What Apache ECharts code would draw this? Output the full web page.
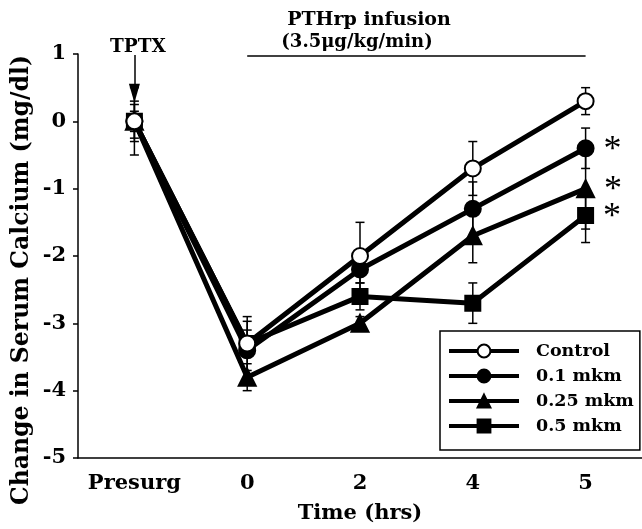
<!DOCTYPE html>
<html>
<head>
<meta charset="utf-8">
<script src="https://cdn.jsdelivr.net/npm/echarts@6/dist/echarts.min.js"></script>
<style>html,body{margin:0;padding:0;background:#fff;}#c{width:642px;height:529px;}</style>
</head>
<body>
<div id="c"></div>
<script>
var categories = ['Presurg', '0', '2', '4', '5'];
var yTicks = [-5, -4, -3, -2, -1, 0, 1];

var controlVals = [0, -3.3, -2.0, -0.7, 0.3];
var controlErr  = [0.5, 0.4, 0.5, 0.4, 0.2];
var m01Vals = [0, -3.4, -2.2, -1.3, -0.4];
var m01Err  = [0.3, 0.43, 0.2, 0.4, 0.3];
var m025Vals = [0, -3.8, -3.0, -1.7, -1.0];
var m025Err  = [0.25, 0.2, 0.1, 0.4, 0.6];
var m05Vals = [0, -3.3, -2.6, -2.7, -1.4];
var m05Err  = [0.15, 0.2, 0.2, 0.3, 0.4];

var seriesNames = ['Control', '0.1 mkm', '0.25 mkm', '0.5 mkm'];
var significant = [false, true, true, true];

var FONT = 'DejaVu Serif';
var chart = echarts.init(document.getElementById('c'), null, {renderer: 'canvas'});

function errSeries(vals, errs) {
  return {
    type: 'custom',
    silent: true,
    z: 1,
    data: vals.map(function (v, i) { return [i, v, errs[i]]; }),
    renderItem: function (params, api) {
      var x = api.value(0), v = api.value(1), e = api.value(2);
      var top = api.coord([x, v + e]);
      var bot = api.coord([x, v - e]);
      var hw = 4.5;
      var st = {stroke: '#000', lineWidth: 1.5};
      return {type: 'group', children: [
        {type: 'line', shape: {x1: top[0], y1: top[1], x2: bot[0], y2: bot[1]}, style: st},
        {type: 'line', shape: {x1: top[0] - hw, y1: top[1], x2: top[0] + hw, y2: top[1]}, style: st},
        {type: 'line', shape: {x1: bot[0] - hw, y1: bot[1], x2: bot[0] + hw, y2: bot[1]}, style: st}
      ]};
    }
  };
}

function lineSeries(name, vals, symbol, size, fill, star, extra) {
  var s = {
    name: name,
    type: 'line',
    z: 3,
    symbol: symbol,
    symbolSize: size,
    showAllSymbol: true,
    lineStyle: {color: '#000', width: 5},
    itemStyle: {color: fill, borderColor: '#000', borderWidth: 2},
    data: vals.map(function (v, i) {
      if (star && i === vals.length - 1) {
        return {value: v, label: {show: true, position: 'right', distance: 9, formatter: '*',
          fontFamily: 'Liberation Serif', fontSize: 36, color: '#000', offset: [0, 2]}};
      }
      return v;
    })
  };
  if (extra) { for (var k in extra) s[k] = extra[k]; }
  return s;
}

var option = {
  animation: false,
  backgroundColor: '#fff',
  grid: {left: 78, top: 54, bottom: 67, width: 566, containLabel: false},
  xAxis: {
    type: 'category',
    data: categories,
    boundaryGap: true,
    axisLine: {onZero: false, lineStyle: {color: '#000', width: 1.5}},
    axisTick: {alignWithLabel: true, interval: 0, length: 6, lineStyle: {color: '#000', width: 1.5}},
    axisLabel: {interval: 0, color: '#000', fontFamily: FONT, fontWeight: 'bold', fontSize: 21, margin: 15},
    name: 'Time (hrs)',
    nameLocation: 'middle',
    nameGap: 45,
    nameTextStyle: {color: '#000', fontFamily: FONT, fontWeight: 'bold', fontSize: 21}
  },
  yAxis: {
    type: 'value',
    min: yTicks[0],
    max: yTicks[yTicks.length - 1],
    interval: 1,
    splitLine: {show: false},
    axisLine: {show: true, lineStyle: {color: '#000', width: 1.5}},
    axisTick: {show: true, length: 5, lineStyle: {color: '#000', width: 1.5}},
    axisLabel: {color: '#000', fontFamily: FONT, fontWeight: 'bold', fontSize: 21, margin: 12}
  },
  legend: {
    orient: 'vertical',
    left: 440,
    top: 331,
    padding: [11, 6, 15, 7],
    itemGap: 7,
    itemWidth: 70,
    itemHeight: 16,
    borderColor: '#000',
    borderWidth: 1.5,
    backgroundColor: '#fff',
    lineStyle: {width: 4},
    textStyle: {color: '#000', fontFamily: FONT, fontWeight: 'bold', fontSize: 17.5, padding: [0, 0, 0, 12]},
    data: seriesNames
  },
  graphic: [
    {type: 'text', x: 22, y: 280, rotation: Math.PI / 2,
      style: {text: 'Change in Serum Calcium (mg/dl)', fill: '#000', font: 'bold 23.5px "DejaVu Serif"',
        textAlign: 'center', textVerticalAlign: 'middle'}},
    {type: 'text', x: 369, y: 20,
      style: {text: 'PTHrp infusion', fill: '#000', font: 'bold 19px "DejaVu Serif"',
        textAlign: 'center', textVerticalAlign: 'middle'}},
    {type: 'text', x: 357, y: 42,
      style: {text: '(3.5\u03bcg/kg/min)', fill: '#000', font: 'bold 18px "DejaVu Serif"',
        textAlign: 'center', textVerticalAlign: 'middle'}},
    {type: 'text', x: 138, y: 47,
      style: {text: 'TPTX', fill: '#000', font: 'bold 18.5px "DejaVu Serif"',
        textAlign: 'center', textVerticalAlign: 'middle'}}
  ],
  series: [
    errSeries(controlVals, controlErr),
    errSeries(m01Vals, m01Err),
    errSeries(m025Vals, m025Err),
    errSeries(m05Vals, m05Err),
    lineSeries(seriesNames[3], m05Vals, 'rect', 15, '#000', significant[3], {
      markLine: {
        silent: true,
        symbol: ['none', 'none'],
        label: {show: false},
        lineStyle: {color: '#000', width: 1.5, type: 'solid'},
        data: [
          [{coord: ['0', 0.97]}, {coord: ['5', 0.97]}],
          [{coord: ['Presurg', 0.985], symbol: 'none'}, {coord: ['Presurg', 0.55], symbol: 'triangle', symbolSize: [11, 19], symbolOffset: [0, -9]}]
        ]
      }
    }),
    lineSeries(seriesNames[2], m025Vals, 'triangle', 17, '#000', significant[2]),
    lineSeries(seriesNames[1], m01Vals, 'circle', 16, '#000', significant[1]),
    lineSeries(seriesNames[0], controlVals, 'circle', 16, '#fff', significant[0])
  ]
};
chart.setOption(option);
</script>
</body>
</html>
